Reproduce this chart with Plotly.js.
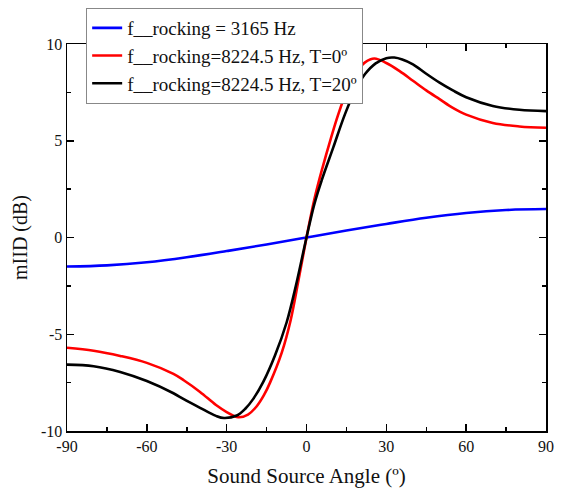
<!DOCTYPE html>
<html>
<head>
<meta charset="utf-8">
<script src="https://cdn.plot.ly/plotly-3.0.1.min.js"></script>
<style>html,body{margin:0;padding:0;background:#fff;}#chart{width:564px;height:490px;}</style>
</head>
<body>
<div id="chart"></div>
<script>
// Series names
const seriesNames = ["f__rocking = 3165 Hz", "f__rocking=8224.5 Hz, T=0º", "f__rocking=8224.5 Hz, T=20º"];

// Blue series: f_rocking = 3165 Hz
const blueAngle = [-90, -75, -60, -45, -30, -15, 0, 15, 30, 45, 60, 75, 90];
const blueIID   = [-1.5, -1.44, -1.28, -1.02, -0.7, -0.36, 0, 0.36, 0.7, 1.02, 1.27, 1.42, 1.47];

// Red series: f_rocking = 8224.5 Hz, T = 0º
const redAngle = [-90, -80, -70, -60, -50, -46, -40, -34, -30, -25.6, -22, -18.7, -16, -13.7, -9.3, -6, -3, 0, 3, 6, 9, 12, 15.7, 19, 22, 25.5, 30, 35, 40, 45, 50, 55, 60, 70, 80, 90];
const redIID   = [-5.70, -5.85, -6.12, -6.48, -7.05, -7.39, -7.98, -8.66, -9.02, -9.29, -9.15, -8.72, -8.15, -7.5, -5.95, -4.3, -2.2, 0, 2.0, 3.6, 5.05, 6.39, 7.77, 8.6, 9.05, 9.25, 9.02, 8.6, 8.1, 7.6, 7.15, 6.7, 6.35, 5.92, 5.74, 5.67];

// Black series: f_rocking = 8224.5 Hz, T = 20º
const blackAngle = [-90, -80, -70, -60, -50, -46.3, -40, -34, -31, -26.2, -23, -20, -16.2, -11.85, -7.45, -4, 0, 3, 5.7, 10.1, 14.5, 18.85, 22, 26, 30, 33, 36, 40, 45, 50, 55, 60, 70, 80, 90];
const blackIID   = [-6.57, -6.65, -6.95, -7.42, -8.05, -8.34, -8.8, -9.22, -9.33, -9.2, -8.85, -8.34, -7.45, -6.1, -4.38, -2.5, 0, 1.75, 2.95, 4.67, 6.39, 7.77, 8.45, 9.0, 9.27, 9.3, 9.2, 8.95, 8.46, 8.0, 7.6, 7.25, 6.8, 6.6, 6.53];

const xTickVals = [-90, -60, -30, 0, 30, 60, 90];
const xMinorVals = [-75, -45, -15, 15, 45, 75];
const yTickVals = [-10, -5, 0, 5, 10];
const yMinorVals = [-7.5, -2.5, 2.5, 7.5];

const fontFam = "Liberation Serif, Times New Roman, serif";

const traces = [
  {x: blueAngle, y: blueIID, name: seriesNames[0], mode: 'lines', line: {color: '#0000ff', width: 2.6, shape: 'spline', smoothing: 1}},
  {x: redAngle, y: redIID, name: seriesNames[1], mode: 'lines', line: {color: '#ff0000', width: 2.6, shape: 'spline', smoothing: 1}},
  {x: blackAngle, y: blackIID, name: seriesNames[2], mode: 'lines', line: {color: '#000000', width: 2.6, shape: 'spline', smoothing: 1}}
];

const axisCommon = {
  showgrid: false, zeroline: false,
  showline: true, linecolor: '#000', linewidth: 1.5, mirror: 'ticks',
  ticks: 'inside', ticklen: 7, tickwidth: 1.5, tickcolor: '#000',
  tickfont: {family: fontFam, size: 16, color: '#111'}
};

const layout = {
  width: 564, height: 490,
  margin: {l: 67, r: 18, t: 44, b: 59, autoexpand: false},
  paper_bgcolor: '#fff', plot_bgcolor: '#fff',
  font: {family: fontFam, color: '#000'},
  showlegend: true,
  legend: {
    x: 0.04, y: 1.093, xanchor: 'left', yanchor: 'top',
    bgcolor: '#fff', bordercolor: '#888', borderwidth: 1,
    font: {family: fontFam, size: 19, color: '#111'},
    tracegroupgap: 0
  },
  xaxis: Object.assign({}, axisCommon, {
    range: [-90, 90], tickvals: xTickVals, ticktext: xTickVals.map(String),
    minor: {tickvals: xMinorVals, ticks: 'inside', ticklen: 4, tickwidth: 1.5, tickcolor: '#000'},
    title: {text: 'Sound Source Angle (º)', font: {family: fontFam, size: 21, color: '#111'}, standoff: 14}
  }),
  yaxis: Object.assign({}, axisCommon, {
    range: [-10, 10], tickvals: yTickVals, ticktext: yTickVals.map(String),
    minor: {tickvals: yMinorVals, ticks: 'inside', ticklen: 4, tickwidth: 1.5, tickcolor: '#000'},
    title: {text: 'mIID (dB)', font: {family: fontFam, size: 20, color: '#111'}, standoff: 8}
  })
};

Plotly.newPlot('chart', traces, layout, {displayModeBar: false, staticPlot: true});
</script>
</body>
</html>
